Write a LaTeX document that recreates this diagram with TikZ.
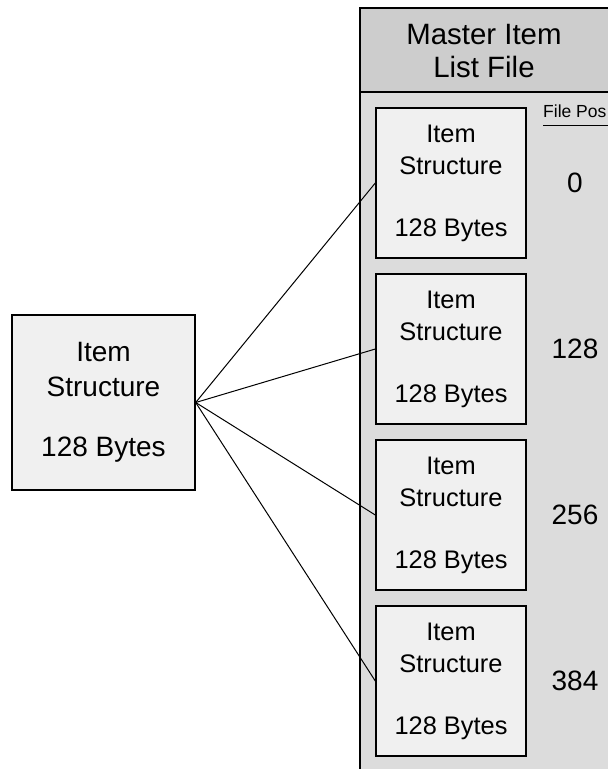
\documentclass[tikz,border=0pt]{standalone}
\usepackage{fontspec}
\setmainfont{Liberation Sans}
\definecolor{hdr}{HTML}{CDCDCD}
\definecolor{body}{HTML}{DCDCDC}
\definecolor{boxf}{HTML}{F0F0F0}
\begin{document}
\begin{tikzpicture}[x=1pt,y=-1pt,
  itembox/.style={draw=black,line width=1.4pt,fill=boxf,minimum width=150pt,minimum height=150pt,inner sep=0pt,align=center,font=\fontsize{25.4}{32}\selectfont},
  bigbox/.style={draw=black,line width=1.4pt,fill=boxf,minimum width=183pt,minimum height=175pt,inner sep=0pt,align=center,font=\fontsize{28}{35}\selectfont},
  posnum/.style={font=\fontsize{28}{32}\selectfont,inner sep=0pt},
  link/.style={line width=1pt}]
\useasboundingbox (0,0) rectangle (608,769);
% master file box
\draw[line width=1.4pt,fill=body] (360,92) rectangle (640,800);
\draw[line width=1.4pt,fill=hdr] (360,8) rectangle (640,92);
\node[align=center,font=\fontsize{29.4}{33}\selectfont] (hdr) at (484,51) {Master Item\\List File};
\node[anchor=base west,inner sep=0pt,font=\fontsize{17.5}{20}\selectfont] (fp) at (543,117) {File Pos};
\coordinate (u1) at (543,125);
\coordinate (u2) at (612,125);
\draw[line width=1pt] (u1) -- (u2);
% inner boxes
\foreach \i/\y/\n in {1/183/0,2/349/128,3/515/256,4/681/384}{
  \node[itembox] (b\i) at (451,\y) {Item\\Structure\\[30pt]128 Bytes};
  \node[posnum] (p\i) at (575,\y) {\n};
}
% left box
\node[bigbox] (L) at (103.5,402.5) {Item\\Structure\\[25pt]128 Bytes};
\foreach \i in {1,2,3,4}{
  \draw[link] (L.east) -- (b\i.west);
}
\end{tikzpicture}
\end{document}
